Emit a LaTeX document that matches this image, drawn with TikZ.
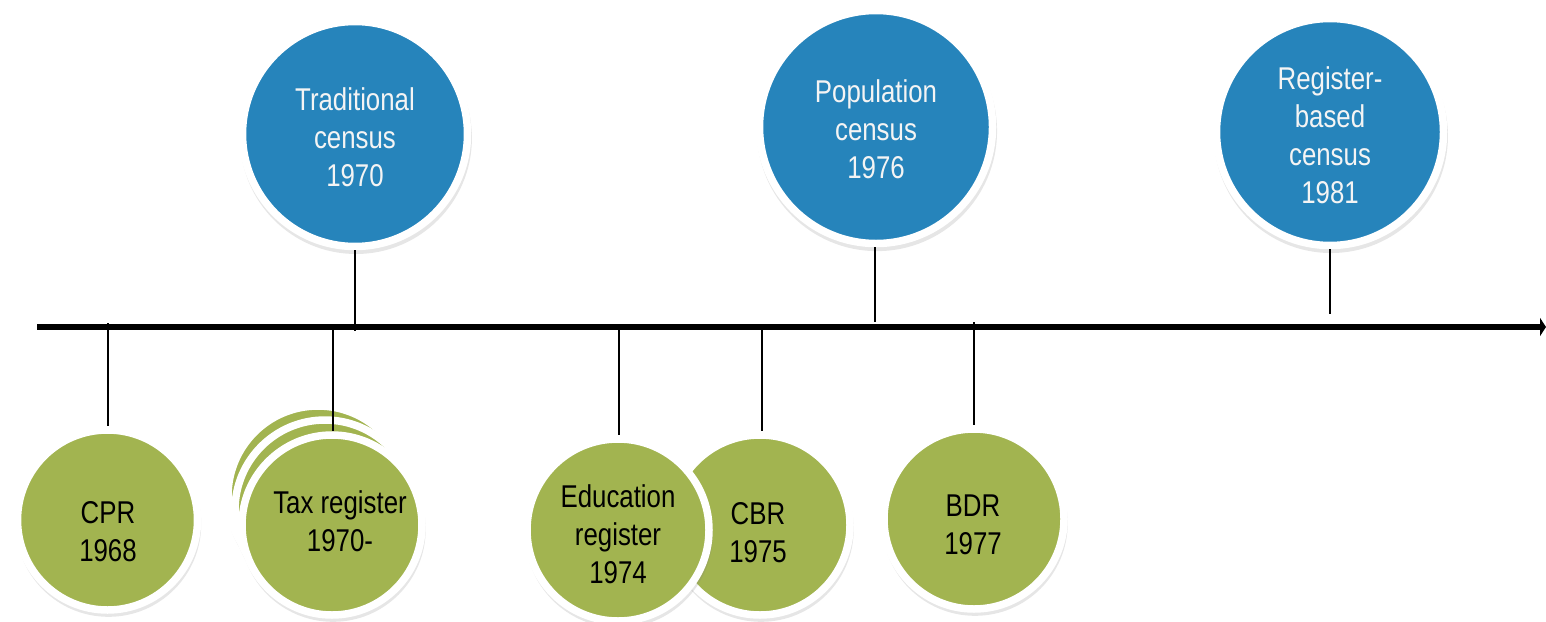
\documentclass[tikz,border=0pt]{standalone}
\usepackage{fontspec}
\setmainfont{Liberation Sans}[FakeStretch=0.82]
\usetikzlibrary{arrows.meta,shadows}
\definecolor{evgreen}{HTML}{A2B450}
\definecolor{evblue}{HTML}{2684BB}
\definecolor{evwhite}{HTML}{F4F4F4}
\tikzset{
  ring/.style={circle, draw=white, line width=7.5pt, inner sep=0pt,
    drop shadow={opacity=0.2, shadow xshift=1pt, shadow yshift=-4pt, shadow scale=1.03}},
  bluecirc/.style={ring, fill=evblue},
  greencirc/.style={ring, fill=evgreen},
  lbl/.style={align=center, inner sep=0pt, font=\fontsize{31.5}{38}\selectfont},
  bluelbl/.style={lbl, text=evwhite},
  greenlbl/.style={lbl, text=black},
  timeline/.style={line width=5.5pt, -{Triangle[length=6pt,width=18pt]}},
  tick/.style={line width=2.4pt}
}
\begin{document}
\begin{tikzpicture}[x=1pt,y=-1pt]
\useasboundingbox (0,0) rectangle (1546,621);

% timeline
\coordinate (tl0) at (37,327);
\coordinate (tl1) at (1546,327);
\draw[timeline] (tl0) -- (tl1);

% tick coordinates
\coordinate (kcpr) at (108,323);
\coordinate (ktax) at (333,330);
\coordinate (ktrad) at (355,331);
\coordinate (kedu) at (619,330);
\coordinate (kcbr) at (762,330);
\coordinate (kpop) at (875,322);
\coordinate (kbdr) at (974,322);
\coordinate (kreg) at (1330,314);

% circles (behind first)
\node[bluecirc, minimum size=225pt] (trad) at (355,134) {};
\node[bluecirc, minimum size=233pt] (pop) at (876,127) {};
\node[bluecirc, minimum size=227pt] (reg) at (1330,132) {};

\node[greencirc, minimum size=180pt] (cpr) at (107.5,520) {};
\node[greencirc, minimum size=180pt] (taxc) at (318,496) {};
\node[greencirc, minimum size=180pt] (taxb) at (325,510) {};
\node[greencirc, minimum size=180pt] (tax) at (332,525) {};
\node[greencirc, minimum size=180pt] (cbr) at (760,525) {};
\node[greencirc, minimum size=182pt] (edu) at (618,530) {};
\node[greencirc, minimum size=180pt] (bdr) at (974,519) {};

% connectors
\draw[tick] (kcpr) -- (kcpr |- cpr.north);
\draw[tick] (ktax) -- (ktax |- tax.north);
\draw[tick] (trad.south) -- (ktrad);
\draw[tick] (kedu) -- (kedu |- edu.north);
\draw[tick] (kcbr) -- (kcbr |- cbr.north);
\draw[tick] (pop.south -| kpop) -- (kpop);
\draw[tick] (kbdr) -- (kbdr |- bdr.north);
\draw[tick] (reg.south) -- (kreg);

% labels
\node[bluelbl] (tradt) at (355,137) {Traditional\\census\\1970};
\node[bluelbl] (popt) at (876,129) {Population\\census\\1976};
\node[bluelbl] (regt) at (1330,135) {Register-\\based\\census\\1981};
\node[greenlbl] (cprt) at (108,532) {CPR\\1968};
\node[greenlbl] (taxt) at (340,521) {Tax register\\1970-};
\node[greenlbl] (edut) at (618,534) {Education\\register\\1974};
\node[greenlbl] (cbrt) at (758,533) {CBR\\1975};
\node[greenlbl] (bdrt) at (973,525) {BDR\\1977};
\end{tikzpicture}
\end{document}
